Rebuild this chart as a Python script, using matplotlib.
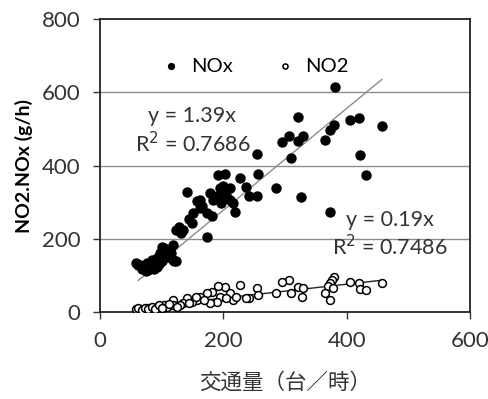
import matplotlib
matplotlib.use("Agg")
import matplotlib.pyplot as plt
import numpy as np

nox_x = [381, 321, 405, 420, 457, 380, 373, 365, 296, 306, 321, 329, 309, 422, 431, 254, 257, 373, 326, 285,
         227, 237, 241, 254, 192, 203, 195, 211, 189, 216, 219, 141, 157, 162, 173, 181, 151, 149, 173, 135,
         124, 132, 119, 103, 97, 92, 84, 76, 65, 59, 70, 92, 108, 119, 162, 184, 205, 178, 197, 211,
         62, 68, 72, 78, 82, 88, 95, 100, 105, 110, 115, 120, 123, 100, 86, 75, 128, 145, 166, 200]
nox_y = [615, 532, 524, 529, 508, 511, 496, 469, 464, 481, 467, 480, 421, 429, 375, 433, 378, 273, 314, 339,
         366, 342, 316, 316, 373, 377, 339, 339, 316, 298, 273, 327, 302, 284, 270, 261, 270, 243, 204, 225,
         225, 216, 184, 174, 161, 147, 142, 133, 129, 133, 120, 124, 161, 142, 307, 307, 321, 325, 298, 307,
         128, 118, 125, 115, 122, 118, 130, 140, 165, 150, 160, 138, 140, 178, 135, 112, 232, 255, 290, 345]

no2_x = [457, 405, 420, 422, 431, 380, 376, 373, 370, 365, 373, 378, 321, 329, 327, 309, 306, 296, 285, 254,
         257, 241, 237, 227, 216, 211, 203, 192, 195, 189, 181, 173, 178, 162, 157, 149, 141, 135, 119, 119,
         103, 97, 92, 81, 76, 65, 59, 70, 86, 108, 130, 168, 205, 221,
         62, 68, 73, 78, 84, 90, 95, 100, 112, 125, 145, 155]
no2_y = [80, 83, 79, 62, 60, 95, 88, 79, 70, 51, 33, 65, 69, 65, 42, 51, 88, 83, 51, 65,
         47, 37, 37, 74, 33, 51, 69, 71, 42, 28, 56, 51, 24, 42, 33, 28, 37, 24, 33, 19,
         19, 15, 15, 10, 10, 7, 7, 5, 5, 13, 19, 33, 37, 42,
         10, 5, 12, 8, 14, 9, 18, 12, 22, 14, 25, 40]

nox_slope = 1.39
no2_slope = 0.19
fit_range = [62, 457]

x_ticks = [0, 200, 400, 600]
y_ticks = [0, 200, 400, 600, 800]

plt.rcParams['font.family'] = ['Lato', 'Noto Sans CJK JP', 'DejaVu Sans']

fig = plt.figure(figsize=(4.89, 3.99), dpi=100)
ax = fig.add_axes([0.2045, 0.218, 0.7565, 0.734])

ax.set_xlim(0, 600)
ax.set_ylim(0, 800)
for yt in [200, 400, 600]:
    ax.axhline(yt, color='#8c8c8c', lw=1.0, zorder=0)

fx = np.array(fit_range)
ax.plot(fx, nox_slope * fx, color='#8c8c8c', lw=1.0, zorder=1)
ax.plot(fx, no2_slope * fx, color='#222222', lw=1.0, zorder=1)

ax.scatter(nox_x, nox_y, s=42, c='black', zorder=3, label='NOx')
ax.scatter(no2_x, no2_y, s=32, facecolors='white', edgecolors='black', linewidths=1.1, zorder=3, label='NO2')

ax.set_xticks(x_ticks)
ax.set_yticks(y_ticks)
ax.tick_params(direction='out', length=5, width=1, labelsize=16, colors='#333333', pad=9)
for s in ax.spines.values():
    s.set_linewidth(1.3)
    s.set_color('#222222')

ax.text(150, 494, 'y = 1.39x\nR$^2$ = 0.7686', ha='center', va='center', fontsize=15.5,
        color='#333333', linespacing=1.2)
ax.text(470, 212, 'y = 0.19x\nR$^2$ = 0.7486', ha='center', va='center', fontsize=15.5,
        color='#333333', linespacing=1.2)

leg = ax.legend(loc='center', bbox_to_anchor=(0.405, 0.84), ncol=2, frameon=False,
                fontsize=14.5, handletextpad=0.0, columnspacing=1.6, markerscale=0.65)

ax.set_ylabel('NO2.NOx (g/h)', fontsize=14, fontweight='bold', labelpad=6)
ax.set_xlabel('交通量（台／時）', fontsize=15.5, labelpad=15, color='#333333')

fig.savefig('out.png', dpi=100)
